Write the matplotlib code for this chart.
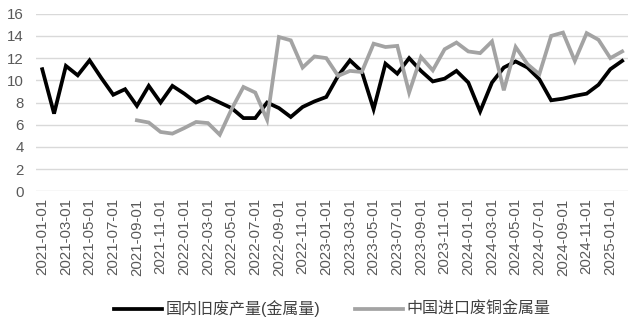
import numpy as np
import pandas as pd
import matplotlib
matplotlib.use('Agg')
import matplotlib.pyplot as plt

plt.rcParams['font.family'] = ['Liberation Sans', 'Noto Sans CJK SC', 'DejaVu Sans']

# %% data
months = pd.date_range('2021-01-01', '2025-02-01', freq='MS').strftime('%Y-%m-%d').tolist()

domestic = [11.0, 7.0, 11.3, 10.45, 11.8, 10.2, 8.7, 9.2, 7.7, 9.5,
            8.0, 9.5, 8.8, 8.0, 8.5, 8.0, 7.5, 6.6, 6.6, 8.0,
            7.5, 6.7, 7.6, 8.1, 8.5, 10.4, 11.8, 10.8, 7.4, 11.5,
            10.6, 12.0, 10.85, 9.9, 10.15, 10.85, 9.8, 7.2, 9.8, 11.15,
            11.7, 11.15, 10.1, 8.2, 8.35, 8.6, 8.8, 9.6, 11.0, 11.75]

imported_start = '2021-09-01'
imported = [6.4, 6.2, 5.35, 5.2, 5.7, 6.25, 6.15, 5.1, 7.4, 9.4,
            8.9, 6.45, 13.9, 13.6, 11.15, 12.15, 12.0, 10.4, 10.85, 10.75,
            13.3, 13.0, 13.1, 8.9, 12.1, 10.9, 12.8, 13.4, 12.6, 12.45,
            13.5, 9.1, 13.0, 11.45, 10.55, 14.0, 14.3, 11.75, 14.25, 13.65,
            12.0, 12.6]

label_domestic = '国内旧废产量(金属量)'
label_imported = '中国进口废铜金属量'

# %% plot
x = np.arange(len(months))
x_imp = np.arange(months.index(imported_start), months.index(imported_start) + len(imported))

fig = plt.figure(figsize=(6.37, 3.26), dpi=100)
ax = fig.add_axes([0.057, 0.413, 0.929, 0.545])

ax.plot(x, domestic, color='black', lw=2.7, solid_joinstyle='miter', label=label_domestic)
ax.plot(x_imp, imported, color='#a3a3a3', lw=2.7, solid_joinstyle='miter', label=label_imported)

ax.set_xlim(-0.5, len(months) - 0.5)
ax.set_ylim(0, 16)
ax.set_yticks(range(0, 17, 2))
ax.set_xticks(x[::2])
ax.set_xticklabels(months[::2], rotation=90)
ax.tick_params(axis='both', length=0, labelsize=10.8, labelcolor='#595959')
ax.tick_params(axis='x', pad=5)
ax.tick_params(axis='y', pad=9)

ax.grid(axis='y', color='#d9d9d9', lw=1)
ax.set_axisbelow(True)
for s in ax.spines.values():
    s.set_visible(False)

ax.legend(loc='center', bbox_to_anchor=(0.5, -0.66), ncol=2, frameon=False,
          fontsize=11.5, handlelength=3.0, columnspacing=2.2, labelcolor='#404040',
          handletextpad=0.2)

fig.savefig('out.png', dpi=100)
